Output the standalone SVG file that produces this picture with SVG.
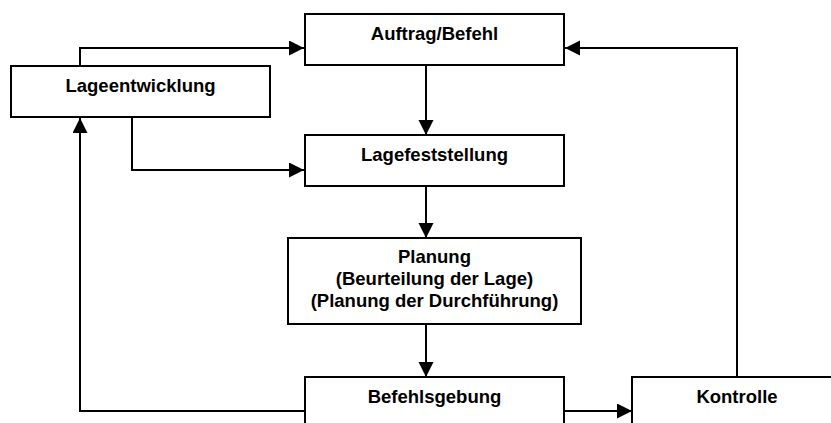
<svg xmlns="http://www.w3.org/2000/svg" width="831" height="423" viewBox="0 0 831 423">
<style>
.box{fill:#fff;stroke:#000;stroke-width:2}
.lbl{font-family:"Liberation Sans",Arial,sans-serif;font-weight:bold;font-size:18.5px;fill:#000;text-anchor:middle}
.con{fill:none;stroke:#000;stroke-width:2}
</style>
<defs>
<marker id="ah" markerUnits="userSpaceOnUse" markerWidth="16" markerHeight="16" refX="15" refY="7.5" orient="auto">
<path d="M0,0 L15,7.5 L0,15 Z" fill="#000"/>
</marker>
</defs>
<rect width="831" height="423" fill="#fff"/>
<g id="connectors">
<path class="con" d="M80,66 V48 H304" marker-end="url(#ah)"/>
<path class="con" d="M132,117 V170 H304" marker-end="url(#ah)"/>
<path class="con" d="M426,65 V135" marker-end="url(#ah)"/>
<path class="con" d="M426,186 V238" marker-end="url(#ah)"/>
<path class="con" d="M426,325 V377" marker-end="url(#ah)"/>
<path class="con" d="M305,411 H80 V118" marker-end="url(#ah)"/>
<path class="con" d="M564,411 H632" marker-end="url(#ah)"/>
<path class="con" d="M737,377 V48 H565" marker-end="url(#ah)"/>
</g>
<g id="auftrag">
<rect class="box" x="305" y="14" width="259" height="51"/>
<text class="lbl" x="434.5" y="40">Auftrag/Befehl</text>
</g>
<g id="lageentwicklung">
<rect class="box" x="11" y="66" width="259" height="51"/>
<text class="lbl" x="140.5" y="92">Lageentwicklung</text>
</g>
<g id="lagefeststellung">
<rect class="box" x="305" y="135" width="259" height="51"/>
<text class="lbl" x="434.5" y="161">Lagefeststellung</text>
</g>
<g id="planung">
<rect class="box" x="288" y="238" width="293" height="86"/>
<text class="lbl" x="434.5" y="263">Planung</text>
<text class="lbl" x="434.5" y="285">(Beurteilung der Lage)</text>
<text class="lbl" x="434.5" y="307">(Planung der Durchführung)</text>
</g>
<g id="befehlsgebung">
<rect class="box" x="305" y="377" width="259" height="60"/>
<text class="lbl" x="434.5" y="403">Befehlsgebung</text>
</g>
<g id="kontrolle">
<rect class="box" x="632" y="377" width="212" height="60"/>
<text class="lbl" x="737" y="403">Kontrolle</text>
</g>
</svg>
